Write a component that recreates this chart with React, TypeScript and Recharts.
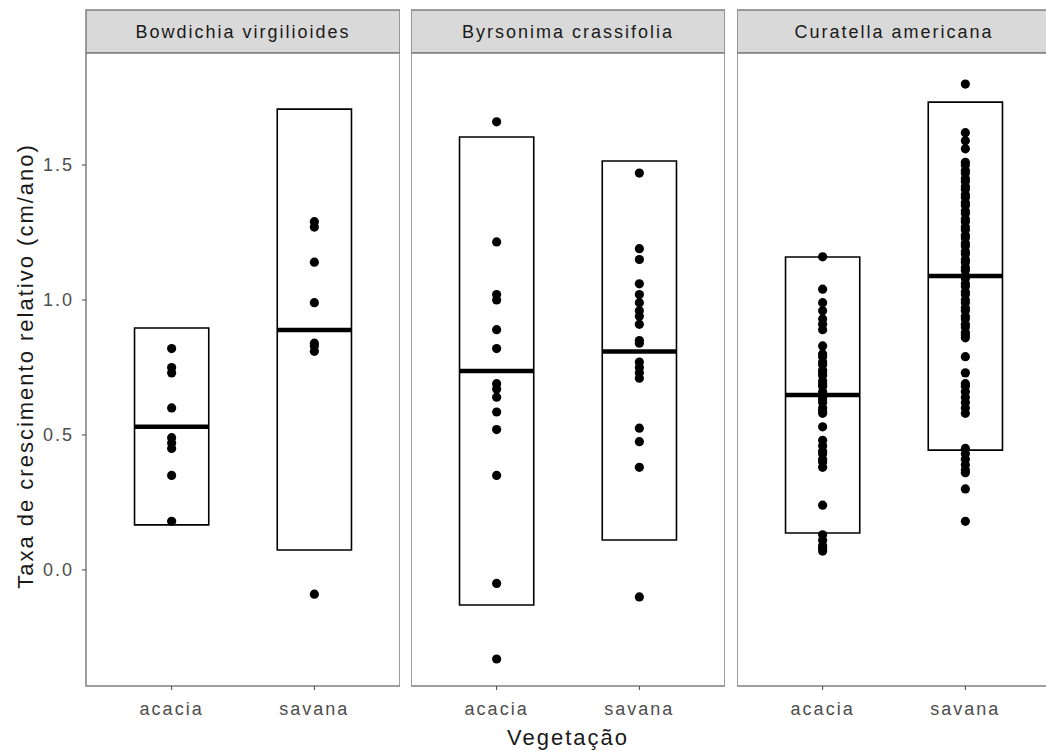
import React from "react";
import {
  ComposedChart,
  XAxis,
  YAxis,
  Scatter,
  ReferenceArea,
  ReferenceLine,
} from "recharts";

// facets and categories
const species = ["Bowdichia virgilioides", "Byrsonima crassifolia", "Curatella americana"];
const vegetation = ["acacia", "savana"];
const yTicks = [0, 0.5, 1, 1.5];

const bowdichiaAcacia = [0.82, 0.75, 0.73, 0.6, 0.49, 0.47, 0.45, 0.35, 0.18];
const bowdichiaSavana = [1.29, 1.27, 1.14, 0.99, 0.84, 0.83, 0.81, -0.09];
const byrsonimaAcacia = [1.66, 1.215, 1.02, 1.0, 0.89, 0.82, 0.69, 0.67, 0.64, 0.585, 0.52, 0.35, -0.05, -0.33];
const byrsonimaSavana = [
  1.47, 1.19, 1.15, 1.06, 1.02, 0.99, 0.96, 0.94, 0.91, 0.85, 0.84, 0.77, 0.75, 0.73, 0.71,
  0.525, 0.475, 0.38, -0.1,
];
const curatellaAcacia = [
  1.16, 1.04, 0.99, 0.96, 0.93, 0.91, 0.89, 0.83, 0.8, 0.79, 0.77, 0.76, 0.74, 0.73, 0.72,
  0.7, 0.69, 0.68, 0.66, 0.65, 0.64, 0.63, 0.62, 0.6, 0.59, 0.58, 0.53, 0.48, 0.46, 0.44,
  0.43, 0.41, 0.4, 0.38, 0.24, 0.13, 0.11, 0.09, 0.08, 0.07,
];
const curatellaSavana = [
  1.8, 1.62, 1.59, 1.56, 1.51, 1.5, 1.48, 1.47, 1.45, 1.44, 1.42, 1.41, 1.39, 1.38, 1.36,
  1.35, 1.33, 1.32, 1.3, 1.29, 1.27, 1.26, 1.24, 1.23, 1.21, 1.2, 1.18, 1.17, 1.15, 1.14,
  1.12, 1.11, 1.09, 1.08, 1.06, 1.05, 1.03, 1.02, 1.0, 0.99, 0.97, 0.96, 0.94, 0.93, 0.91,
  0.9, 0.88, 0.87, 0.86, 0.79, 0.73, 0.69, 0.68, 0.66, 0.64, 0.62, 0.6, 0.58, 0.45, 0.43,
  0.41, 0.39, 0.37, 0.36, 0.3, 0.18,
];

// crossbars: order is [acacia, savana] per species
const boxMin = [0.167, 0.074, -0.13, 0.111, 0.137, 0.444];
const boxMean = [0.53, 0.889, 0.737, 0.809, 0.648, 1.089];
const boxMax = [0.896, 1.707, 1.604, 1.515, 1.159, 1.733];

const groups = [
  [bowdichiaAcacia, bowdichiaSavana],
  [byrsonimaAcacia, byrsonimaSavana],
  [curatellaAcacia, curatellaSavana],
];

const yDomain = [-0.43, 1.915];
const xDomain = [0.4, 2.6];
const halfBox = 0.26;
const panelW = 314;
const panelLeft = [86, 411, 737];
const top = 53;
const fontFamily = "'Liberation Sans', Arial, sans-serif";

function Panel({ idx }: { idx: number }) {
  const first = idx === 0;
  const width = first ? panelLeft[0] + panelW : panelW;
  const px = first ? panelLeft[0] : 0;
  const series = groups[idx].map((vals, g) => vals.map((y) => ({ x: g + 1, y })));

  return (
    <div style={{ position: "absolute", top: 0, left: first ? 0 : panelLeft[idx] }}>
      <ComposedChart width={width} height={753} margin={{ top: top, right: 0, bottom: 0, left: 0 }}>
        <XAxis
          type="number"
          dataKey="x"
          domain={xDomain}
          ticks={[1, 2]}
          interval={0}
          allowDataOverflow
          tickFormatter={(v) => vegetation[v - 1]}
          axisLine={false}
          tickSize={4}
          tickMargin={12}
          tickLine={{ stroke: "#444" }}
          tick={{ fill: "#4d4d4d", fontSize: 18, letterSpacing: 2 }}
          height={67}
        />
        <YAxis
          type="number"
          dataKey="y"
          domain={yDomain}
          ticks={yTicks}
          allowDataOverflow
          hide={!first}
          width={first ? 86 : 0}
          tickFormatter={(v) => v.toFixed(1)}
          axisLine={false}
          tickSize={4}
          tickMargin={8}
          tickLine={{ stroke: "#444" }}
          tick={{ fill: "#4d4d4d", fontSize: 18, letterSpacing: 2 }}
        />
        <ReferenceArea
          x1={xDomain[0]}
          x2={xDomain[1]}
          y1={yDomain[0]}
          y2={yDomain[1]}
          fill="#fff"
          fillOpacity={1}
          stroke="#7f7f7f"
          strokeWidth={1.5}
        />
        {series.map((d, g) => (
          <Scatter
            key={g}
            data={d}
            isAnimationActive={false}
            shape={(p: any) => <circle cx={p.cx} cy={p.cy} r={4.6} fill="#000" />}
          />
        ))}
        {[0, 1].map((g) => (
          <ReferenceArea
            key={"b" + g}
            x1={g + 1 - halfBox}
            x2={g + 1 + halfBox}
            y1={boxMin[idx * 2 + g]}
            y2={boxMax[idx * 2 + g]}
            fill="none"
            stroke="#000"
            strokeWidth={1.6}
          />
        ))}
        {[0, 1].map((g) => (
          <ReferenceLine
            key={"m" + g}
            segment={[
              { x: g + 1 - halfBox, y: boxMean[idx * 2 + g] },
              { x: g + 1 + halfBox, y: boxMean[idx * 2 + g] },
            ]}
            stroke="#000"
            strokeWidth={4.5}
          />
        ))}
        <rect x={px} y={10} width={panelW} height={top - 10} fill="#d9d9d9" stroke="#7f7f7f" strokeWidth={1.5} />
        <text
          x={px + panelW / 2}
          y={38}
          textAnchor="middle"
          fontSize={18}
          letterSpacing={2}
          fill="#1a1a1a"
        >
          {species[idx]}
        </text>
        {first && (
          <text
            x={33}
            y={366}
            transform="rotate(-90 33 366)"
            textAnchor="middle"
            fontSize={22}
            letterSpacing={2}
            fill="#1a1a1a"
          >
            Taxa de crescimento relativo (cm/ano)
          </text>
        )}
        {idx === 1 && (
          <text x={panelW / 2} y={745} textAnchor="middle" fontSize={22} letterSpacing={2} fill="#1a1a1a">
            Vegetação
          </text>
        )}
      </ComposedChart>
    </div>
  );
}

export default function App() {
  return (
    <div
      style={{
        position: "absolute",
        left: 0,
        top: 0,
        width: 1046,
        height: 753,
        overflow: "hidden",
        background: "#fff",
        fontFamily,
      }}
    >
      {[0, 1, 2].map((i) => (
        <Panel key={i} idx={i} />
      ))}
    </div>
  );
}
